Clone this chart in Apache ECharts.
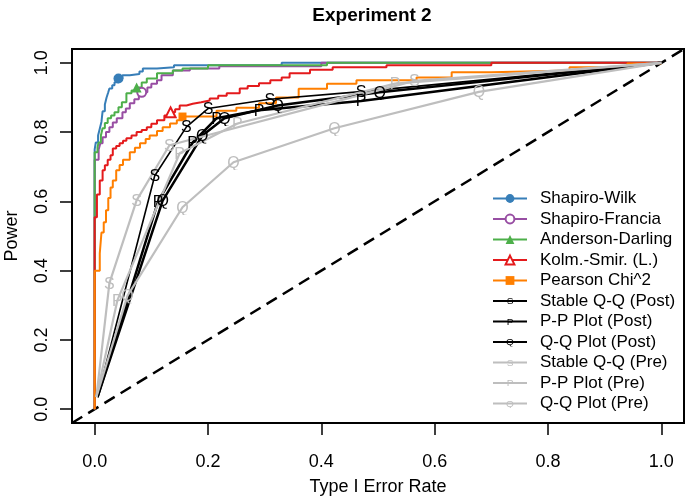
<!DOCTYPE html>
<html>
<head>
<meta charset="utf-8">
<script src="https://cdn.jsdelivr.net/npm/echarts@6/dist/echarts.min.js"></script>
<style>
  html, body { margin: 0; padding: 0; background: #fff; }
  #chart { width: 685px; height: 499px; }
</style>
</head>
<body>
<div id="chart"></div>
<script>
// tick values on both axes
const tickMin = 0
const tickMax = 1
const tickStep = 0.2

// reference line y = x
const diagX = [-0.04, 1.04]
const diagY = [-0.04, 1.04]

// Shapiro-Wilk (step curve, corner points)
const swX = [0, 0, 0.002, 0.006, 0.009, 0.012, 0.014, 0.018, 0.021, 0.024, 0.026, 0.031, 0.035, 0.042, 0.049, 0.062, 0.079, 0.085, 0.11, 0.14, 0.33, 1]
const swY = [0, 0.75, 0.77, 0.79, 0.81, 0.83, 0.86, 0.88, 0.9, 0.915, 0.926, 0.935, 0.944, 0.955, 0.964, 0.968, 0.975, 0.984, 0.987, 0.993, 1, 1]

// Shapiro-Francia
const sfX = [0, 0, 0.007, 0.01, 0.014, 0.02, 0.026, 0.032, 0.039, 0.049, 0.055, 0.062, 0.07, 0.078, 0.083, 0.093, 0.1, 0.11, 0.118, 0.138, 0.168, 0.22, 0.4, 1]
const sfY = [0, 0.72, 0.75, 0.768, 0.785, 0.8, 0.814, 0.828, 0.84, 0.857, 0.868, 0.883, 0.895, 0.905, 0.915, 0.929, 0.94, 0.95, 0.964, 0.978, 0.984, 0.99, 1, 1]

// Anderson-Darling
const adX = [0, 0, 0.005, 0.007, 0.011, 0.014, 0.018, 0.023, 0.029, 0.035, 0.042, 0.048, 0.056, 0.065, 0.074, 0.083, 0.092, 0.11, 0.138, 0.155, 0.2, 0.41, 1]
const adY = [0, 0.742, 0.756, 0.77, 0.79, 0.811, 0.826, 0.84, 0.848, 0.857, 0.872, 0.886, 0.912, 0.92, 0.929, 0.943, 0.955, 0.97, 0.978, 0.984, 0.993, 1, 1]

// Kolmogorov-Smirnov (Lilliefors)
const ksX = [0, 0, 0.004, 0.009, 0.014, 0.018, 0.023, 0.028, 0.032, 0.038, 0.044, 0.05, 0.056, 0.065, 0.074, 0.083, 0.092, 0.1, 0.11, 0.123, 0.134, 0.142, 0.15, 0.162, 0.173, 0.188, 0.203, 0.218, 0.233, 0.256, 0.27, 0.29, 0.31, 0.33, 0.344, 0.38, 0.42, 0.515, 0.7, 1]
const ksY = [0, 0.554, 0.62, 0.66, 0.69, 0.704, 0.72, 0.733, 0.753, 0.76, 0.768, 0.775, 0.782, 0.79, 0.8, 0.806, 0.814, 0.824, 0.834, 0.848, 0.857, 0.866, 0.877, 0.882, 0.886, 0.891, 0.897, 0.905, 0.912, 0.926, 0.933, 0.941, 0.95, 0.958, 0.97, 0.98, 0.987, 0.993, 1, 1]

// Pearson Chi^2
const pcX = [0, 0, 0.009, 0.012, 0.016, 0.02, 0.024, 0.028, 0.032, 0.038, 0.044, 0.05, 0.062, 0.071, 0.08, 0.09, 0.097, 0.11, 0.12, 0.133, 0.145, 0.155, 0.215, 0.25, 0.29, 0.32, 0.36, 0.41, 0.462, 0.568, 0.63, 0.7, 0.838, 0.94, 1]
const pcY = [0, 0.4, 0.45, 0.51, 0.54, 0.574, 0.61, 0.64, 0.66, 0.69, 0.705, 0.72, 0.742, 0.755, 0.768, 0.78, 0.79, 0.803, 0.814, 0.825, 0.834, 0.845, 0.862, 0.87, 0.883, 0.9, 0.925, 0.94, 0.95, 0.958, 0.973, 0.978, 0.987, 0.998, 1]

// letter curves, after transformation (Post)
const ssPostX = [0.005, 0.106, 0.162, 0.2, 0.309, 0.47, 1]
const ssPostY = [0.035, 0.674, 0.815, 0.868, 0.895, 0.917, 1]
const ppPostX = [0.005, 0.112, 0.173, 0.215, 0.29, 0.47, 1]
const ppPostY = [0.035, 0.6, 0.77, 0.84, 0.863, 0.89, 1]
const qqPostX = [0.005, 0.12, 0.19, 0.229, 0.323, 0.503, 1]
const qqPostY = [0.035, 0.602, 0.79, 0.84, 0.877, 0.915, 1]

// letter curves, before transformation (Pre)
const ssPreX = [0.003, 0.026, 0.074, 0.132, 0.564, 1]
const ssPreY = [0.035, 0.364, 0.603, 0.762, 0.948, 1]
const ppPreX = [0.003, 0.04, 0.15, 0.252, 0.53, 1]
const ppPreY = [0.035, 0.314, 0.739, 0.825, 0.94, 1]
const qqPreX = [0.003, 0.058, 0.155, 0.245, 0.423, 0.678, 1]
const qqPreY = [0.035, 0.328, 0.583, 0.713, 0.811, 0.916, 1]

const FONT = '"Liberation Sans", Arial, sans-serif'
const GRAY = '#bebebe'

// plot box (pixels) and R-style 4% axis padding
const W = 685, H = 499
const box = { left: 72, right: 1, top: 49, bottom: 76 }
const PAD = 0.04
const TICK_LEN = 12
const boxW = W - box.left - box.right
const boxH = H - box.top - box.bottom
const padX = boxW * PAD / (1 + 2 * PAD)
const padY = boxH * PAD / (1 + 2 * PAD)

function pairs(xs, ys) {
  return xs.map((x, i) => [x, ys[i]])
}

// letter used as a plotting symbol (like pch = "S")
function letterSymbol(ch, color) {
  const svg = "<svg xmlns='http://www.w3.org/2000/svg' width='14' height='16'>" +
    "<text x='7' y='13.5' font-family='Liberation Sans, Arial' font-size='16' text-anchor='middle' fill='" +
    color + "'>" + ch + "</text></svg>"
  return 'image://data:image/svg+xml;charset=utf-8,' + encodeURIComponent(svg)
}

// step curve with one highlighted point
function stepSeries(name, color, xs, ys, symbol, markIdx, size) {
  return {
    name: name,
    type: 'line',
    step: 'end',
    symbol: symbol,
    symbolSize: size,
    showSymbol: true,
    animation: false,
    lineStyle: { color: color, width: 2 },
    itemStyle: { color: color, borderWidth: 2 },
    data: pairs(xs, ys).map((p, i) => i === markIdx ? { value: p } : { value: p, symbol: 'none' })
  }
}

// straight curve with letter markers on interior points
function letterSeries(name, ch, color, width, xs, ys) {
  const last = xs.length - 1
  return {
    name: name,
    type: 'line',
    symbol: letterSymbol(ch, color),
    symbolSize: [14, 16],
    showSymbol: true,
    animation: false,
    lineStyle: { color: color, width: width },
    itemStyle: { color: color },
    data: pairs(xs, ys).map((p, i) => (i === 0 || i === last) ? { value: p, symbol: 'none' } : { value: p })
  }
}

const chart = echarts.init(document.getElementById('chart'))

const series = [
  {
    name: 'diag',
    type: 'line',
    data: pairs(diagX, diagY),
    symbol: 'none',
    silent: true,
    animation: false,
    lineStyle: { color: '#000', width: 2.5, type: [12, 7] }
  },
  stepSeries('Shapiro-Wilk', '#377eb8', swX, swY, 'circle', 13, 10),
  stepSeries('Shapiro-Francia', '#984ea3', sfX, sfY, 'emptyCircle', 14, 9),
  stepSeries('Anderson-Darling', '#4daf4a', adX, adY, 'triangle', 14, 10),
  stepSeries('Kolm.-Smir. (L.)', '#e41a1c', ksX, ksY, 'emptyTriangle', 20, 10),
  stepSeries('Pearson Chi^2', '#ff7f00', pcX, pcY, 'rect', 21, 8),
  letterSeries('Stable Q-Q (Post)', 'S', '#000', 1.6, ssPostX, ssPostY),
  letterSeries('P-P Plot (Post)', 'P', '#000', 2.5, ppPostX, ppPostY),
  letterSeries('Q-Q Plot (Post)', 'Q', '#000', 2.5, qqPostX, qqPostY),
  letterSeries('Stable Q-Q (Pre)', 'S', GRAY, 2.2, ssPreX, ssPreY),
  letterSeries('P-P Plot (Pre)', 'P', GRAY, 2.2, ppPreX, ppPreY),
  letterSeries('Q-Q Plot (Pre)', 'Q', GRAY, 2.2, qqPreX, qqPreY)
]

const axisText = { fontFamily: FONT, fontSize: 18, color: '#000' }

// R-style axis: 0..1 with outward ticks, sitting on the box edge
function tickAxis(gridIndex, extra) {
  return Object.assign({
    gridIndex: gridIndex,
    type: 'value',
    min: tickMin,
    max: tickMax,
    interval: tickStep,
    nameLocation: 'middle',
    nameTextStyle: axisText,
    axisLine: { show: true, onZero: false, lineStyle: { color: '#000', width: 2 } },
    axisTick: { show: true, inside: false, length: TICK_LEN, lineStyle: { color: '#000', width: 1.5 } },
    splitLine: { show: false }
  }, extra)
}

function hiddenAxis(gridIndex) {
  return { gridIndex: gridIndex, type: 'value', min: -PAD, max: 1 + PAD, show: false }
}

// keep every grid exactly where it is put (no shrinking to fit labels)
function fixedGrid(g) {
  return Object.assign({ outerBoundsMode: 'none', containLabel: false }, g)
}

chart.setOption({
  backgroundColor: '#fff',
  animation: false,
  title: {
    text: 'Experiment 2',
    left: 367,
    top: 1,
    textAlign: 'center',
    textStyle: { fontFamily: FONT, fontSize: 19, fontWeight: 'bold', color: '#000' }
  },
  grid: [
    // 0: plot box with the padded data range
    fixedGrid(Object.assign({ show: true, borderColor: '#000', borderWidth: 2 }, box)),
    // 1: bottom edge of the box, x spans only 0..1
    fixedGrid({ left: box.left + padX, right: box.right + padX, top: box.top, bottom: box.bottom }),
    // 2: left edge of the box, y spans only 0..1
    fixedGrid({ left: box.left, right: box.right, top: box.top + padY, bottom: box.bottom + padY })
  ],
  legend: {
    orient: 'vertical',
    left: 487,
    top: 185,
    itemWidth: 34,
    itemHeight: 11,
    itemGap: 3.5,
    selectedMode: false,
    data: series.slice(1).map(s => s.name),
    textStyle: { fontFamily: FONT, fontSize: 17, color: '#000', padding: [0, 0, 0, 8] }
  },
  xAxis: [
    hiddenAxis(0),
    tickAxis(1, {
      position: 'bottom',
      name: 'Type I Error Rate',
      nameGap: 55,
      axisLabel: Object.assign({ margin: 30, formatter: v => v.toFixed(1) }, axisText)
    }),
    hiddenAxis(2)
  ],
  yAxis: [
    hiddenAxis(0),
    hiddenAxis(1),
    tickAxis(2, {
      position: 'left',
      name: 'Power',
      nameGap: 51,
      axisLabel: Object.assign({ margin: 21, rotate: 90, formatter: v => v.toFixed(1) }, axisText)
    })
  ],
  series: series
})
</script>
</body>
</html>
